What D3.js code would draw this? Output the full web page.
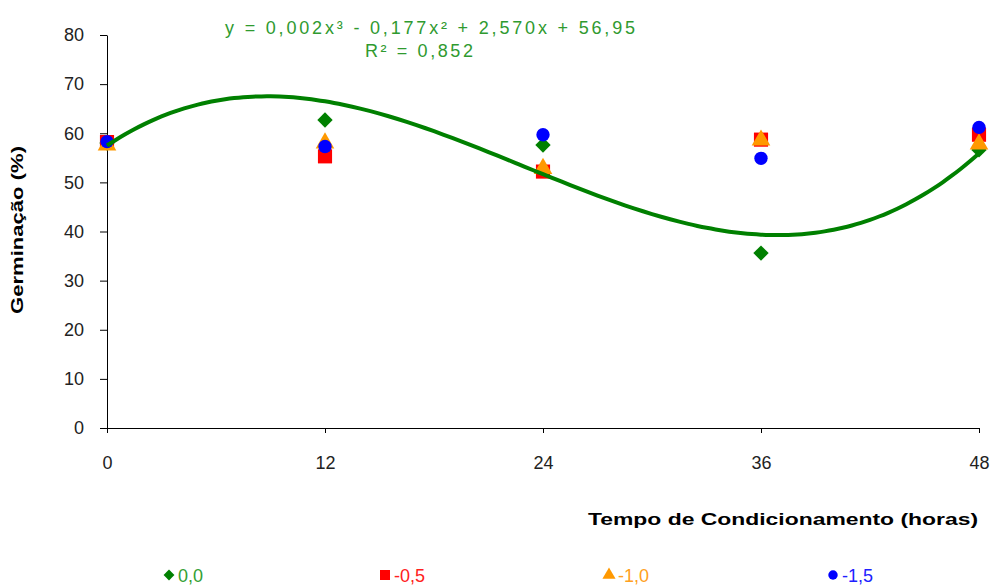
<!DOCTYPE html>
<html><head><meta charset="utf-8">
<script src="https://cdn.jsdelivr.net/npm/d3@7"></script>
<style>
body{margin:0;background:#fff;}
svg{display:block;font-family:"Liberation Sans",Arial,sans-serif;}
</style></head>
<body><svg id="c" width="990" height="585"></svg>
<script>
// ---- data ----
const hours = [0, 12, 24, 36, 48];
const xTicks = [0, 12, 24, 36, 48];
const yTicks = [0, 10, 20, 30, 40, 50, 60, 70, 80];
const seriesNames = ["0,0", "-0,5", "-1,0", "-1,5"];
const s00 = [58.0, 62.7, 57.6, 35.6, 56.6];
const s05 = [58.2, 55.3, 52.2, 58.7, 59.7];
const s10 = [57.6, 58.0, 52.8, 58.6, 57.8];
const s15 = [58.3, 57.3, 59.7, 54.9, 61.2];
// trend line coefficients (c0 + c1 x + c2 x^2 + c3 x^3)
const trendCoef = [57.5, 2.476, -0.1743, 0.002542];
const equationText = "y = 0,002x\u00B3 - 0,177x\u00B2 + 2,570x + 56,95";
const r2Text = "R\u00B2 = 0,852";
const xTitle = "Tempo de Condicionamento (horas)";
const yTitle = "Germina\u00E7\u00E3o (%)";

const colors = ["#008000", "#ff0000", "#ff9900", "#0000ff"];
const textColors = ["#33a033", "#ff2020", "#ffa020", "#2020ff"];
const symbols = [d3.symbolDiamond2, d3.symbolSquare, d3.symbolTriangle, d3.symbolCircle];
const sizes = [150, 200, 150, 140];
const allSeries = [s00, s05, s10, s15];

const svg = d3.select("#c");
const x = d3.scaleLinear().domain([0, 48]).range([107, 979]);
const y = d3.scaleLinear().domain([0, 80]).range([428, 35]);

// axes
const ya = svg.append("g").attr("transform", "translate(107,0)")
  .call(d3.axisLeft(y).tickValues(yTicks).tickSize(7).tickPadding(16).tickSizeOuter(0));
ya.select(".domain").attr("stroke", "#000");
ya.selectAll("text").attr("font-size", 18).attr("fill", "#222").attr("font-family", "Liberation Sans, Arial, sans-serif");

const xa = svg.append("g").attr("transform", "translate(0,428)")
  .call(d3.axisBottom(x).tickValues(xTicks).tickSize(5).tickPadding(23).tickSizeOuter(0));
xa.select(".domain").attr("stroke", "#000");
xa.selectAll("text").attr("font-size", 18).attr("fill", "#222").attr("font-family", "Liberation Sans, Arial, sans-serif");

// titles
svg.append("text").attr("transform", "translate(23,230) rotate(-90)")
  .attr("text-anchor", "middle").attr("font-weight", "bold").attr("font-size", 17)
  .attr("textLength", 168).attr("lengthAdjust", "spacingAndGlyphs")
  .attr("fill", "#000").text(yTitle);
svg.append("text").attr("x", 783).attr("y", 525)
  .attr("text-anchor", "middle").attr("font-weight", "bold").attr("font-size", 17)
  .attr("textLength", 390).attr("lengthAdjust", "spacingAndGlyphs")
  .attr("fill", "#000").text(xTitle);

// markers
allSeries.forEach((s, i) => {
  svg.append("g").selectAll("path").data(s).join("path")
    .attr("transform", (d, j) => `translate(${x(hours[j])},${y(d)})`)
    .attr("d", d3.symbol().type(symbols[i]).size(sizes[i]))
    .attr("fill", colors[i]);
});

// trend line
const xs = d3.range(0, 48.01, 0.5);
const f = t => trendCoef[0] + trendCoef[1] * t + trendCoef[2] * t * t + trendCoef[3] * t * t * t;
svg.append("path").datum(xs)
  .attr("d", d3.line().x(d => x(d)).y(d => y(f(d))).curve(d3.curveBasis))
  .attr("fill", "none").attr("stroke", "#008000").attr("stroke-width", 4);

// equation
svg.append("text").attr("x", 430).attr("y", 34).attr("text-anchor", "middle")
  .attr("font-size", 18).attr("fill", "#2f9a2f")
  .attr("textLength", 410).attr("lengthAdjust", "spacing").text(equationText);
svg.append("text").attr("x", 419).attr("y", 57).attr("text-anchor", "middle")
  .attr("font-size", 18).attr("fill", "#2f9a2f")
  .attr("textLength", 108).attr("lengthAdjust", "spacing").text(r2Text);

// legend
const legX = [169, 385, 609, 833];
seriesNames.forEach((n, i) => {
  const g = svg.append("g").attr("transform", `translate(${legX[i]},575)`);
  g.append("path").attr("d", d3.symbol().type(symbols[i]).size(sizes[i] * 0.5)).attr("fill", colors[i]);
  g.append("text").attr("x", 9).attr("y", 6.5).attr("font-size", 18).attr("fill", textColors[i]).text(n);
});
</script></body></html>
